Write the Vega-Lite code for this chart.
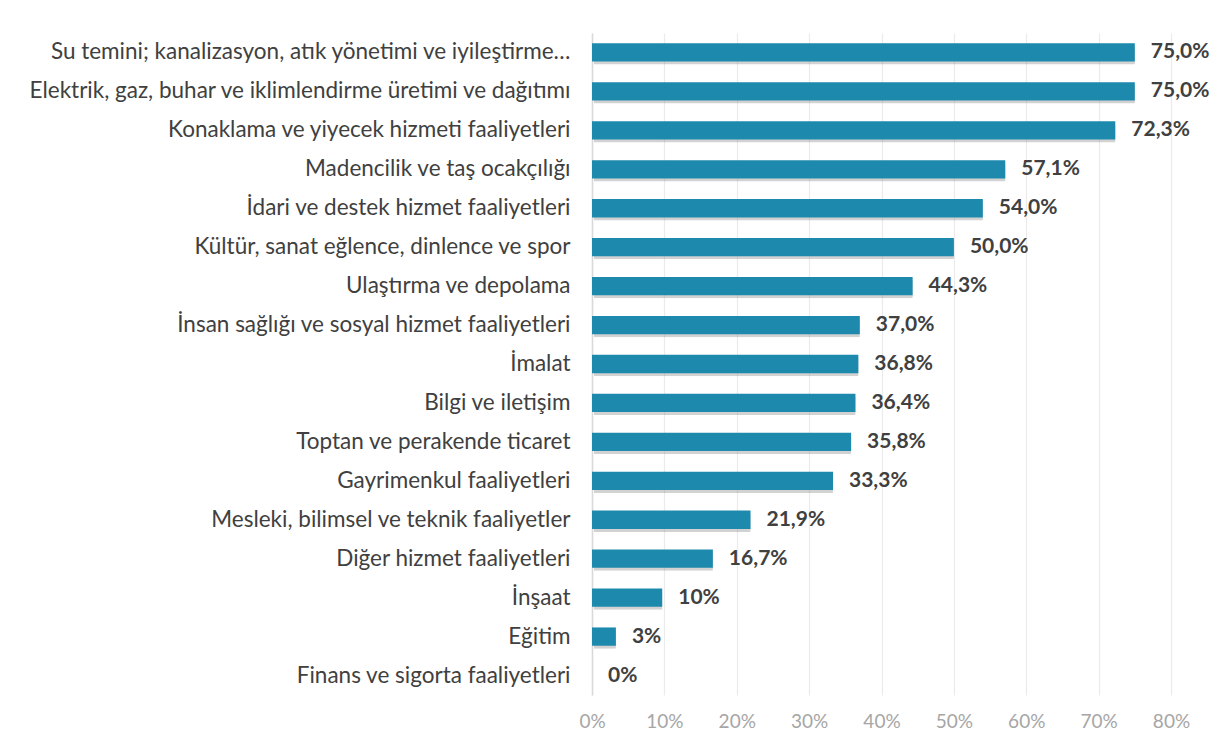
{
  "$schema": "https://vega.github.io/schema/vega-lite/v6.json",
  "width": 579,
  "height": 662,
  "autosize": {"type": "none"},
  "padding": {"left": 592, "top": 33, "right": 48, "bottom": 54},
  "background": "white",
  "config": {
    "view": {"stroke": null},
    "font": "Lato"
  },
  "data": {
    "values": [
      {"sector": "Su temini; kanalizasyon, atık yönetimi ve iyileştirme…", "value": 0.75, "label": "75,0%"},
      {"sector": "Elektrik, gaz, buhar ve iklimlendirme üretimi ve dağıtımı", "value": 0.75, "label": "75,0%"},
      {"sector": "Konaklama ve yiyecek hizmeti faaliyetleri", "value": 0.723, "label": "72,3%"},
      {"sector": "Madencilik ve taş ocakçılığı", "value": 0.571, "label": "57,1%"},
      {"sector": "İdari ve destek hizmet faaliyetleri", "value": 0.54, "label": "54,0%"},
      {"sector": "Kültür, sanat eğlence, dinlence ve spor", "value": 0.5, "label": "50,0%"},
      {"sector": "Ulaştırma ve depolama", "value": 0.443, "label": "44,3%"},
      {"sector": "İnsan sağlığı ve sosyal hizmet faaliyetleri", "value": 0.37, "label": "37,0%"},
      {"sector": "İmalat", "value": 0.368, "label": "36,8%"},
      {"sector": "Bilgi ve iletişim", "value": 0.364, "label": "36,4%"},
      {"sector": "Toptan ve perakende ticaret", "value": 0.358, "label": "35,8%"},
      {"sector": "Gayrimenkul faaliyetleri", "value": 0.333, "label": "33,3%"},
      {"sector": "Mesleki, bilimsel ve teknik faaliyetler", "value": 0.219, "label": "21,9%"},
      {"sector": "Diğer hizmet faaliyetleri", "value": 0.167, "label": "16,7%"},
      {"sector": "İnşaat", "value": 0.097, "label": "10%"},
      {"sector": "Eğitim", "value": 0.033, "label": "3%"},
      {"sector": "Finans ve sigorta faaliyetleri", "value": 0, "label": "0%"}
    ]
  },
  "encoding": {
    "y": {
      "field": "sector",
      "type": "nominal",
      "sort": null,
      "title": null,
      "scale": {"paddingInner": 0.53, "paddingOuter": 0.265},
      "axis": {
        "ticks": false,
        "domain": true,
        "domainColor": "#d9d9d9",
        "domainWidth": 1.5,
        "labelPadding": 22,
        "labelFontSize": 22.5,
        "labelColor": "#404040",
        "labelLimit": 700
      }
    },
    "x": {
      "field": "value",
      "type": "quantitative",
      "title": null,
      "scale": {"domain": [0, 0.8], "nice": false},
      "axis": {
        "format": ".0%",
        "values": [0, 0.1, 0.2, 0.3, 0.4, 0.5, 0.6, 0.7, 0.8],
        "domain": false,
        "ticks": false,
        "grid": true,
        "gridColor": "#ebebeb",
        "gridWidth": 1.2,
        "labelColor": "#a6a6a6",
        "labelFontSize": 19,
        "labelPadding": 17,
        "labelFlush": false
      }
    }
  },
  "layer": [
    {
      "mark": {"type": "bar", "color": "#7f7f7f", "opacity": 0.35, "xOffset": 2, "yOffset": 3, "cornerRadius": 1}
    },
    {
      "mark": {"type": "bar", "color": "#1d89ad"}
    },
    {
      "mark": {"type": "text", "align": "left", "baseline": "middle", "dx": 16, "fontSize": 21, "fontWeight": "bold", "color": "#404040"},
      "encoding": {"text": {"field": "label"}}
    }
  ]
}
